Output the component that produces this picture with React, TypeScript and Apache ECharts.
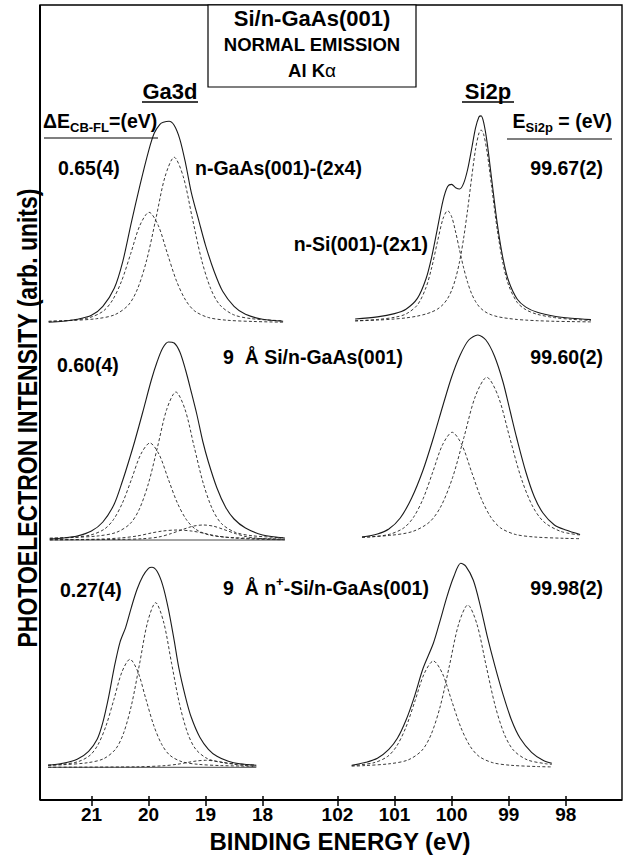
import React, { useEffect, useRef } from "react";
import * as echarts from "echarts";

// ---------- data: [binding energy (eV), intensity above the spectrum's baseline] ----------
// Ga 3d — clean n-GaAs(001)-(2x4)
const GA_TOP_ENV = [[21.75,1],[21.5,2],[21.25,4],[21.0,8],[20.8,17],[20.6,35],[20.45,62],[20.3,101],[20.15,138],[20.0,172],[19.9,190],[19.8,199],[19.74,201],[19.64,202],[19.55,198],[19.45,184],[19.35,160],[19.25,131],[19.11,101],[19.0,78],[18.85,52],[18.7,32],[18.5,17],[18.3,9],[18.0,4],[17.64,2]];
const GA_TOP_A = [[21.75,2.0],[21.39,2.7],[20.91,4.6],[20.59,8.6],[20.35,18.4],[20.19,34.7],[20.03,63.6],[19.87,104.7],[19.71,146.6],[19.55,166],[19.39,146.6],[19.23,104.7],[19.07,63.6],[18.91,34.7],[18.75,18.4],[18.51,8.6],[18.19,4.6],[17.64,2.5]];
const GA_TOP_B = [[21.75,1.9],[21.35,3.1],[21.03,5.8],[20.79,12.3],[20.63,23.2],[20.47,42.5],[20.31,70],[20.15,98],[19.99,111],[19.83,98],[19.67,70],[19.51,42.5],[19.35,23.2],[19.19,12.3],[18.95,5.8],[18.63,3.1],[18.15,1.8],[17.64,1.1]];
// Ga 3d — 9 Å Si/n-GaAs(001)
const GA_MID_ENV = [[21.73,1],[21.5,2],[21.25,4],[21.0,9],[20.8,18],[20.6,36],[20.45,60],[20.35,78],[20.24,99],[20.1,128],[19.95,160],[19.85,178],[19.75,192],[19.65,198],[19.55,197],[19.45,188],[19.35,170],[19.25,148],[19.15,125],[19.05,99],[18.95,78],[18.8,52],[18.65,33],[18.5,21],[18.3,12],[18.0,5],[17.61,2]];
const GA_MID_A = [[21.73,1.8],[21.36,2.4],[20.88,4.1],[20.56,7.7],[20.32,16.4],[20.16,30.9],[20.0,56.7],[19.84,93.4],[19.68,130.7],[19.52,148],[19.36,130.7],[19.2,93.4],[19.04,56.7],[18.88,30.9],[18.72,16.4],[18.48,7.7],[18.16,4.1],[17.61,2.2]];
const GA_MID_B = [[21.73,1.6],[21.335,2.7],[21.015,5.0],[20.775,10.8],[20.615,20.3],[20.455,37.2],[20.295,61.2],[20.135,85.7],[19.975,97],[19.815,85.7],[19.655,61.2],[19.495,37.2],[19.335,20.3],[19.175,10.8],[18.935,5.0],[18.615,2.7],[18.135,1.6],[17.61,1.0]];
const GA_MID_C = [[21.73,0.3],[20.9,0.8],[20.5,2],[20.2,4],[19.95,7],[19.75,9],[19.49,10],[19.25,9],[19.05,7],[18.8,4],[18.5,2],[18.1,0.8],[17.61,0.3]];
const GA_MID_D = [[21.73,0.2],[20.5,0.6],[20.1,1.3],[19.82,3],[19.6,6.5],[19.4,10.5],[19.22,13.8],[19.04,15],[18.86,13.8],[18.68,10.5],[18.48,6.5],[18.26,3],[17.98,1.3],[17.61,0.6]];
const GA_MID_BASE = [[21.73,0],[17.61,0]];
// Ga 3d — 9 Å n+-Si/n-GaAs(001)
const GA_BOT_ENV = [[21.76,2],[21.5,4],[21.25,8],[21.05,16],[20.9,28],[20.8,45],[20.7,70],[20.6,100],[20.5,125],[20.4,140],[20.3,160],[20.2,178],[20.1,191],[20.0,199],[19.94,200],[19.85,196],[19.75,182],[19.65,158],[19.55,127],[19.47,100],[19.35,70],[19.25,50],[19.1,30],[18.95,18],[18.8,11],[18.6,6],[18.4,3.5],[18.11,2]];
const GA_BOT_A = [[21.76,2.0],[21.485,2.6],[21.065,4.6],[20.785,8.6],[20.575,18.3],[20.435,34.4],[20.295,63.0],[20.155,103.9],[20.015,145.3],[19.875,164.6],[19.735,145.3],[19.595,103.9],[19.455,63.0],[19.315,34.4],[19.175,18.3],[18.965,8.6],[18.685,4.6],[18.265,2.6],[18.11,2.2]];
const GA_BOT_B = [[21.76,2.2],[21.515,3.0],[21.235,5.6],[21.025,12.0],[20.885,22.6],[20.745,41.4],[20.605,68.1],[20.465,95.4],[20.325,108],[20.185,95.4],[20.045,68.1],[19.905,41.4],[19.765,22.6],[19.625,12.0],[19.415,5.6],[19.135,3.0],[18.715,1.7],[18.11,1.0]];
const GA_BOT_D = [[21.76,0.1],[20.2,0.5],[19.75,1.5],[19.5,3],[19.3,5],[19.15,6.4],[19.0,7],[18.85,6.4],[18.7,5],[18.5,3],[18.25,1.5],[18.11,1.0]];
const GA_BOT_BASE = [[21.76,0],[18.11,0]];

// Si 2p — n-Si(001)-(2x1)
const SI_TOP_ENV = [[101.69,3.7],[101.3,5.8],[101.0,9.1],[100.8,13.5],[100.6,24.3],[100.45,43.7],[100.35,65.6],[100.25,93.9],[100.15,122.4],[100.07,136.2],[100.0,138.3],[99.93,135.0],[99.86,133.7],[99.79,139.3],[99.72,153.2],[99.65,173.7],[99.58,195.0],[99.52,206.0],[99.484,206.8],[99.44,200.5],[99.38,180.8],[99.3,144.2],[99.2,98.8],[99.1,64.1],[99.0,41.4],[98.85,23.4],[98.7,15.6],[98.5,10.4],[98.2,6.5],[97.9,4.5],[97.56,3.1]];
const SI_TOP_A = [[101.69,1.8],[101.3,2.6],[101.0,3.7],[100.8,4.8],[100.6,6.6],[100.45,8.7],[100.35,10.7],[100.25,13.5],[100.15,18.2],[100.07,24.2],[100.0,32.3],[99.93,44.3],[99.86,61.3],[99.79,84.4],[99.72,112.9],[99.65,144.7],[99.58,173.9],[99.52,189.8],[99.484,192.7],[99.44,188.5],[99.38,171.0],[99.3,136.4],[99.2,92.7],[99.1,59.1],[99.0,37.2],[98.85,20.2],[98.7,13.0],[98.5,8.4],[98.2,5.1],[97.9,3.4],[97.56,2.3]];
const SI_TOP_B = [[101.69,1.9],[101.3,3.2],[101.0,5.4],[100.8,8.7],[100.6,17.7],[100.45,35.0],[100.35,54.9],[100.25,80.4],[100.15,104.2],[100.07,112],[100.0,106.0],[99.93,90.7],[99.86,72.4],[99.79,54.9],[99.72,40.3],[99.65,29.0],[99.58,21.1],[99.52,16.2],[99.484,14.1],[99.44,12.0],[99.38,9.8],[99.3,7.8],[99.2,6.1],[99.1,5.0],[99.0,4.2],[98.85,3.2],[98.7,2.6],[98.5,2.0],[98.2,1.4],[97.9,1.1],[97.56,0.8]];
// Si 2p — 9 Å Si/n-GaAs(001)
const SI_MID_ENV = [[101.57,3],[101.3,6],[101.1,11],[100.9,22],[100.7,42],[100.5,70],[100.32,102],[100.15,135],[100.0,163],[99.85,185],[99.7,200],[99.54,205],[99.4,200],[99.25,184],[99.1,158],[98.98,130],[98.86,102],[98.7,68],[98.55,43],[98.4,27],[98.2,15],[98.0,10],[97.75,5.5]];
const SI_MID_A = [[101.57,2.8],[101.084,4.6],[100.684,8.5],[100.384,18.1],[100.184,34.0],[99.984,62.3],[99.784,102.7],[99.584,143.7],[99.384,162.7],[99.184,143.7],[98.984,102.7],[98.784,62.3],[98.584,34.0],[98.384,18.1],[98.084,8.5],[97.75,5.0]];
const SI_MID_B = [[101.57,2.8],[101.435,3.0],[101.095,5.6],[100.84,12.0],[100.67,22.5],[100.5,41.2],[100.33,68.0],[100.16,95.1],[99.99,107.7],[99.82,95.1],[99.65,68.0],[99.48,41.2],[99.31,22.5],[99.14,12.0],[98.885,5.6],[98.545,3.0],[98.035,1.7],[97.75,1.3]];
// Si 2p — 9 Å n+-Si/n-GaAs(001)
const SI_BOT_ENV = [[101.75,3],[101.5,6],[101.3,10],[101.1,19],[100.95,30],[100.8,48],[100.65,72],[100.5,100],[100.32,125],[100.2,148],[100.08,172],[99.96,192],[99.84,205],[99.75,202],[99.62,188],[99.5,163],[99.38,133],[99.24,102],[99.1,74],[98.95,48],[98.8,30],[98.6,16],[98.4,8],[98.245,5]];
const SI_BOT_A = [[101.75,2.1],[101.557,2.6],[101.077,4.6],[100.757,8.5],[100.517,18.1],[100.357,34.1],[100.197,62.5],[100.037,103.0],[99.877,144.2],[99.717,163.3],[99.557,144.2],[99.397,103.0],[99.237,62.5],[99.077,34.1],[98.917,18.1],[98.677,8.5],[98.357,4.6],[98.245,3.9]];
const SI_BOT_B = [[101.75,2.7],[101.36,5.6],[101.12,11.9],[100.96,22.4],[100.8,41.1],[100.64,67.7],[100.48,94.7],[100.32,107.3],[100.16,94.7],[100.0,67.7],[99.84,41.1],[99.68,22.4],[99.52,11.9],[99.28,5.6],[98.96,3.0],[98.48,1.7],[98.245,1.4]];

// tick values
const GA_TICKS = [18, 19, 20, 21];
const SI_TICKS = [98, 99, 100, 101, 102];

// ---------- layout ----------
const W = 624, H = 856;
const FRAME = { l: 40, r: 622, t: 5, b: 800 };
const PLOT_H = FRAME.b - FRAME.t; // 1 y-unit = 1 px
const OFF = {
  gaTop: FRAME.b - 323.3, gaMid: FRAME.b - 540, gaBot: FRAME.b - 767.3,
  siTop: FRAME.b - 322.7, siMid: FRAME.b - 540, siBot: FRAME.b - 768.3,
};
const FONT = '"Liberation Sans", Arial, Helvetica, sans-serif';

type Pt = number[];
function mk(data: Pt[], offset: number, side: 0 | 1, kind: "env" | "comp" | "base") {
  return {
    type: "line",
    xAxisIndex: side === 0 ? 0 : 2,
    yAxisIndex: side,
    data: data.map(([e, h]) => [e, h + offset]),
    symbol: "none",
    smooth: kind === "base" ? false : 0.3,
    silent: true,
    z: kind === "env" ? 4 : 3,
    lineStyle:
      kind === "env"
        ? { color: "#1a1a1a", width: 1.1, type: "solid" }
        : kind === "base"
        ? { color: "#333", width: 0.9, type: "solid" }
        : { color: "#222", width: 0.9, type: [3, 2.2] },
  };
}

function xAx(grid: number, min: number, max: number, ticks: number[], outer: boolean) {
  return {
    type: "value",
    gridIndex: grid,
    min,
    max,
    inverse: true,
    position: "bottom",
    axisLine: { show: false },
    splitLine: { show: false },
    axisTick: {
      show: true,
      inside: !outer,
      length: outer ? 6 : 4,
      customValues: ticks,
      lineStyle: { color: "#000", width: 1.5 },
    },
    axisLabel: {
      show: outer,
      customValues: ticks,
      color: "#000",
      fontSize: 19,
      fontWeight: "bold",
      fontFamily: FONT,
      margin: 5,
    },
  };
}

function txt(text: string, x: number, y: number, size: number, align = "center", extra: any = {}) {
  return {
    type: "text",
    x,
    y,
    silent: true,
    style: {
      text,
      fill: "#000",
      font: `bold ${size}px ${FONT}`,
      textAlign: align,
      textVerticalAlign: "middle",
      ...extra,
    },
  };
}

function hline(x1: number, x2: number, y: number, w = 1.2) {
  return { type: "line", silent: true, shape: { x1, y1: y, x2, y2: y }, style: { stroke: "#000", lineWidth: w } };
}

export default function App() {
  const ref = useRef<HTMLDivElement>(null);
  useEffect(() => {
    const chart = echarts.init(ref.current!, null, { renderer: "svg" });
    const gaL = 40.1, gaW = 245.3, siL = 308.9, siW = 314.0;
    const rich = (main: number, sub: number) => ({
      m: { fontSize: main, fontWeight: "bold", fontFamily: FONT, fill: "#000", lineHeight: 26, verticalAlign: "middle" },
      s: { fontSize: sub, fontWeight: "bold", fontFamily: FONT, fill: "#000", lineHeight: sub, verticalAlign: "bottom" },
      u: { fontSize: sub, fontWeight: "bold", fontFamily: FONT, fill: "#000", lineHeight: sub, verticalAlign: "top" },
    });
    const option: any = {
      animation: false,
      backgroundColor: "#fff",
      grid: [
        { left: gaL, width: gaW, top: FRAME.t, height: PLOT_H },
        { left: siL, width: siW, top: FRAME.t, height: PLOT_H },
      ],
      xAxis: [
        xAx(0, 17.6, 21.9, GA_TICKS, true),
        xAx(0, 17.6, 21.9, GA_TICKS, false),
        xAx(1, 97.0, 102.5, SI_TICKS, true),
        xAx(1, 97.0, 102.5, SI_TICKS, false),
      ],
      yAxis: [
        { type: "value", gridIndex: 0, min: 0, max: PLOT_H, show: false },
        { type: "value", gridIndex: 1, min: 0, max: PLOT_H, show: false },
      ],
      series: [
        mk(GA_TOP_A, OFF.gaTop, 0, "comp"),
        mk(GA_TOP_B, OFF.gaTop, 0, "comp"),
        mk(GA_TOP_ENV, OFF.gaTop, 0, "env"),
        mk(GA_MID_BASE, OFF.gaMid, 0, "base"),
        mk(GA_MID_A, OFF.gaMid, 0, "comp"),
        mk(GA_MID_B, OFF.gaMid, 0, "comp"),
        mk(GA_MID_C, OFF.gaMid, 0, "comp"),
        mk(GA_MID_D, OFF.gaMid, 0, "comp"),
        mk(GA_MID_ENV, OFF.gaMid, 0, "env"),
        mk(GA_BOT_BASE, OFF.gaBot, 0, "base"),
        mk(GA_BOT_A, OFF.gaBot, 0, "comp"),
        mk(GA_BOT_B, OFF.gaBot, 0, "comp"),
        mk(GA_BOT_D, OFF.gaBot, 0, "comp"),
        mk(GA_BOT_ENV, OFF.gaBot, 0, "env"),
        mk(SI_TOP_A, OFF.siTop, 1, "comp"),
        mk(SI_TOP_B, OFF.siTop, 1, "comp"),
        mk(SI_TOP_ENV, OFF.siTop, 1, "env"),
        mk(SI_MID_A, OFF.siMid, 1, "comp"),
        mk(SI_MID_B, OFF.siMid, 1, "comp"),
        mk(SI_MID_ENV, OFF.siMid, 1, "env"),
        mk(SI_BOT_A, OFF.siBot, 1, "comp"),
        mk(SI_BOT_B, OFF.siBot, 1, "comp"),
        mk(SI_BOT_ENV, OFF.siBot, 1, "env"),
      ],
      graphic: [
        // frame
        { type: "rect", silent: true, z: 10, shape: { x: FRAME.l, y: FRAME.t, width: FRAME.r - FRAME.l, height: FRAME.b - FRAME.t }, style: { fill: "none", stroke: "#000", lineWidth: 1.4 } },
        { type: "line", silent: true, z: 10, shape: { x1: FRAME.l, y1: FRAME.t, x2: FRAME.l, y2: FRAME.b }, style: { stroke: "#000", lineWidth: 2 } },
        { type: "line", silent: true, z: 10, shape: { x1: FRAME.l, y1: FRAME.b, x2: FRAME.r, y2: FRAME.b }, style: { stroke: "#000", lineWidth: 2 } },
        // title box
        { type: "rect", silent: true, z: 10, shape: { x: 208, y: FRAME.t, width: 208, height: 82 }, style: { fill: "#fff", stroke: "#000", lineWidth: 1.2 } },
        { ...txt("Si/n-GaAs(001)", 312, 18, 22), z: 11 },
        { ...txt("NORMAL EMISSION", 312, 44, 18.5), z: 11 },
        {
          type: "text", x: 312, y: 70, z: 11, silent: true,
          style: {
            text: "{m|Al K}{g|α}",
            textAlign: "center", textVerticalAlign: "middle",
            rich: {
              m: { fontSize: 18.5, fontWeight: "bold", fontFamily: FONT, fill: "#000" },
              g: { fontSize: 19, fontWeight: "normal", fontFamily: FONT, fill: "#000" },
            },
          },
        },
        // panel headings
        txt("Ga3d", 170, 91, 22),
        hline(142, 198, 102, 1.6),
        txt("Si2p", 488, 91, 22),
        hline(462, 514, 102, 1.6),
        // column headers
        {
          type: "text", x: 43, y: 121, silent: true,
          style: { text: "{m|ΔE}{s|CB-FL}{m|=(eV)}", textAlign: "left", textVerticalAlign: "middle", rich: rich(19.5, 13) },
        },
        hline(44, 158, 138, 1.2),
        {
          type: "text", x: 612, y: 121, silent: true,
          style: { text: "{m|E}{s|Si2p}{m| = (eV)}", textAlign: "right", textVerticalAlign: "middle", rich: rich(19.5, 13) },
        },
        hline(507, 612, 139, 1.2),
        // values and sample labels
        txt("0.65(4)", 58, 168, 19.5, "left"),
        txt("n-GaAs(001)-(2x4)", 195, 168, 19.5, "left"),
        txt("99.67(2)", 603, 168, 19.5, "right"),
        txt("n-Si(001)-(2x1)", 428, 244, 19.5, "right"),
        txt("0.60(4)", 57, 365, 19.5, "left"),
        txt("9  Å Si/n-GaAs(001)", 223, 357, 19.5, "left"),
        txt("99.60(2)", 603, 357, 19.5, "right"),
        txt("0.27(4)", 60, 590, 19.5, "left"),
        {
          type: "text", x: 223, y: 588, silent: true,
          style: { text: "{m|9  Å n}{u|+}{m|-Si/n-GaAs(001)}", textAlign: "left", textVerticalAlign: "middle", rich: rich(19.5, 13) },
        },
        txt("99.98(2)", 603, 588, 19.5, "right"),
        // axis titles
        txt("BINDING ENERGY (eV)", 340, 841, 24),
        { ...txt("PHOTOELECTRON INTENSITY (arb. units)", 27, 418, 23), rotation: Math.PI / 2, scaleY: 1.2 },
      ],
    };
    chart.setOption(option);
    return () => chart.dispose();
  }, []);
  return <div ref={ref} style={{ position: "absolute", left: 0, top: 0, width: W, height: H, background: "#fff" }} />;
}
